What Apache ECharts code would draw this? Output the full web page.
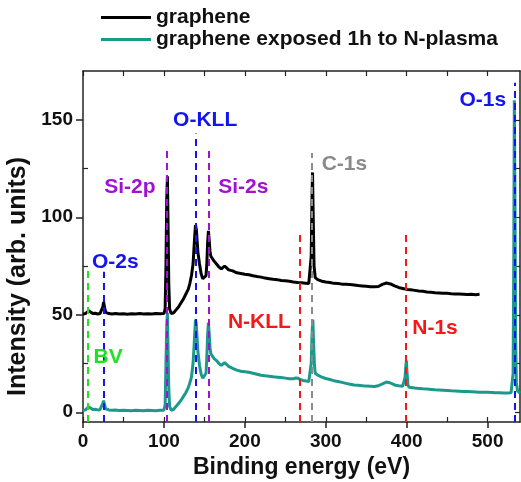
<!DOCTYPE html>
<html>
<head>
<meta charset="utf-8">
<script src="https://cdn.jsdelivr.net/npm/echarts@6/dist/echarts.min.js"></script>
<style>
  html, body { margin: 0; padding: 0; background: #fff; }
  #chart { width: 521px; height: 482px; }
</style>
</head>
<body>
<div id="chart"></div>
<script>
// spectra: [binding energy (eV), intensity]
const graphene = [
  [0,50.3],[3,50.6],[5,51.2],[7,52.0],[9,51.0],[12,50.6],[15,50.8],[18,50.4],[21,50.6],[23,51.5],
  [24.5,54],[25.5,56.5],[26.5,54],[28,51.2],[32,50.6],[36,50.4],[40,50.6],[45,50.4],[50,50.5],
  [55,50.3],[60,50.5],[65,50.4],[70,50.6],[75,50.4],[80,50.5],[85,50.4],[90,50.6],[95,50.5],
  [100,50.6],[101.5,53],[102.5,75],[103.5,110],[104.3,121],[105,100],[106,66],[107,53],[109,50.6],
  [112,51],[115,52.5],[118,54],[121,56],[124,58],[127,60.5],[130,63],[132,66],[134,70],[136,76],
  [137,83],[138,90],[139,96],[140,94],[141,88],[142,82],[144,76],[146,71],[148,68.5],[150,68],
  [152,70],[153,76],[154,87],[155,93],[156,88],[157,82],[158,80],[160,79],[162,77.5],[165,76],
  [168,74.5],[171,73.5],[173,74.5],[175,75],[177,74],[180,73],[185,72.5],[190,71.5],[195,71.2],
  [200,70.8],[205,70.5],[210,70],[215,69.6],[220,69.3],[225,68.8],[230,68.5],[235,68.2],[240,68],
  [245,67.6],[250,67.4],[255,67.2],[260,66.8],[265,66.5],[270,66.4],[275,66.2],[279,66],[281,67],
  [282,80],[283,110],[283.6,123],[284.5,100],[285.5,75],[287,69],[290,68],[295,67.2],[300,66.8],
  [305,66.5],[310,66.1],[315,66],[320,65.7],[325,65.6],[330,65.5],[335,65.3],[340,65],[345,64.8],
  [350,64.6],[355,64.4],[360,64.3],[365,64.5],[370,65.6],[375,66.3],[380,65.8],[385,64.8],[390,64],
  [395,63.5],[400,63],[405,62.8],[410,62.5],[415,62.2],[420,62],[425,61.7],[430,61.5],[435,61.3],
  [440,61.2],[445,61],[450,61],[455,60.8],[460,60.7],[465,60.6],[470,60.5],[475,60.4],[480,60.5],
  [485,60.3],[490,60.5]
];

const nPlasma = [
  [0,0.8],[3,1.2],[5,2],[7,2.8],[9,2],[12,1.4],[15,1.5],[18,1.2],[21,1.3],[23,2],[24.5,4.5],
  [25.5,6],[26.5,4],[28,1.8],[32,1.2],[36,1],[40,1.1],[45,0.9],[50,1],[55,0.9],[60,0.8],[65,1],
  [70,0.9],[75,0.8],[80,1],[85,0.9],[90,0.8],[95,1],[100,1],[101.5,4],[102.5,25],[103.5,45],
  [104.3,51],[105,35],[106,12],[107,3],[109,1],[112,1.5],[115,3],[118,4.5],[121,6],[124,8],
  [127,10],[130,12.5],[132,15],[134,18],[136,25],[137,32],[138,40],[139,47.5],[140,45],[141,38],
  [142,31],[144,24],[146,19.5],[148,17.5],[150,17.5],[152,20],[153,28],[154,40],[155,46],[156,40],
  [157,33],[158,30],[160,29],[162,27.5],[165,26.5],[168,25],[171,24],[173,25],[175,25.5],[177,24.5],
  [180,23.5],[185,22.5],[190,21.6],[195,21],[200,20.8],[205,20.5],[210,20],[215,19.5],[220,19],
  [225,18.7],[230,18.5],[235,18.2],[240,18],[245,17.8],[250,17.5],[255,17.2],[260,17.2],[263,17.6],
  [266,17.4],[269,16.7],[272,16.3],[276,16],[279,15.8],[281,16.5],[282,25],[283,40],[284,47.5],
  [285,35],[286,24],[287,20],[290,19],[295,18],[300,17.3],[305,16.8],[310,16.2],[315,15.8],
  [320,15.3],[325,14.8],[330,14.4],[335,14],[340,13.8],[345,13.6],[350,13.4],[355,13.3],[360,13.2],
  [365,13.6],[370,14.6],[375,15.5],[380,15],[385,14],[390,13.6],[395,13.3],[397,13.5],[398,18],
  [399,24],[399.6,26.5],[400.5,20],[401.5,14],[403,12.8],[405,12.6],[410,12.4],[415,12.2],[420,12],
  [425,11.9],[430,11.7],[435,11.5],[440,11.4],[445,11.3],[450,11.2],[455,11],[460,10.9],[465,10.8],
  [470,10.7],[475,10.6],[480,10.5],[485,10.4],[490,10.3],[495,10.2],[500,10.2],[505,10.1],[510,10],
  [515,10],[520,9.9],[525,9.9],[529,10],[530.5,11],[531.5,20],[532.3,80],[533,160],[533.8,110],
  [534.6,40],[535.5,15],[537,11],[539,10],[540,9.8]
];

// peak markers
const peakNames    = ['BV', 'O-2s', 'Si-2p', 'O-KLL', 'Si-2s', 'N-KLL', 'C-1s', 'N-1s', 'O-1s'];
const peakEnergies = [6, 25.5, 103.5, 139, 155, 267.5, 283.2, 399.3, 533];
const peakTops     = [73, 72, 134, 143, 135, 93, 133, 93, 169];
const labelAt      = [[31, 28], [40, 77], [58, 115.5], [151, 150], [198, 115.5], [218, 46], [323, 127], [435, 43], [494, 160]];

const xTickValues = [0, 100, 200, 300, 400, 500];
const xMinorValues = [50, 150, 250, 350, 450];
const yTickValues = [0, 50, 100, 150];
const yMinorValues = [25, 75, 125];
const xRange = [0, 540];
const yRange = [-5, 175];

// styles
const peakColor = {
  'BV': '#22e022', 'O-2s': '#1414f2', 'O-KLL': '#1414f2', 'O-1s': '#1414f2',
  'Si-2p': '#a012d2', 'Si-2s': '#a012d2', 'C-1s': '#8a8a8a',
  'N-KLL': '#f51818', 'N-1s': '#f51818'
};
const FONT = "'Liberation Sans', Arial, sans-serif";
const INK = '#222';

const chart = echarts.init(document.getElementById('chart'));

const baseX = { type: 'value', min: xRange[0], max: xRange[1], interval: 50, splitLine: { show: false } };
const baseY = { type: 'value', min: yRange[0], max: yRange[1], interval: 25, splitLine: { show: false } };

chart.setOption({
  animation: false,
  legend: {
    left: 96, top: 2, orient: 'vertical', itemGap: 1,
    icon: 'rect', itemWidth: 50, itemHeight: 3,
    textStyle: { fontFamily: FONT, fontWeight: 'bold', fontSize: 21, color: '#111' },
    data: ['graphene', 'graphene exposed 1h to N-plasma']
  },
  grid: { left: 83, right: 1, top: 71, bottom: 60, containLabel: false, outerBoundsMode: 'none' },
  xAxis: [
    Object.assign({}, baseX, {
      position: 'bottom',
      name: 'Binding energy (eV)', nameLocation: 'middle', nameGap: 33,
      nameTextStyle: { fontFamily: FONT, fontWeight: 'bold', fontSize: 23, color: '#111' },
      axisLine: { show: true, onZero: false, lineStyle: { color: INK, width: 1.5 } },
      axisTick: { show: true, inside: false, length: 6, lineStyle: { color: INK, width: 1.5 }, customValues: xTickValues },
      axisLabel: { fontFamily: FONT, fontWeight: 'bold', fontSize: 19, color: '#111', margin: 10, customValues: xTickValues }
    }),
    Object.assign({}, baseX, {
      position: 'bottom',
      axisLine: { show: false, onZero: false },
      axisTick: { show: true, inside: true, length: 5, lineStyle: { color: INK, width: 1.2 }, customValues: xTickValues.concat(xMinorValues) },
      axisLabel: { show: false }
    }),
    Object.assign({}, baseX, {
      position: 'top',
      axisLine: { show: true, onZero: false, lineStyle: { color: INK, width: 1.5 } },
      axisTick: { show: true, inside: true, length: 5, lineStyle: { color: INK, width: 1.2 }, customValues: xTickValues.concat(xMinorValues) },
      axisLabel: { show: false }
    })
  ],
  yAxis: [
    Object.assign({}, baseY, {
      position: 'left',
      name: 'Intensity (arb. units)', nameLocation: 'middle', nameGap: 36,
      nameTextStyle: { fontFamily: FONT, fontWeight: 'bold', fontSize: 25, color: '#111', padding: [0, 60, 0, 0] },
      axisLine: { show: true, onZero: false, lineStyle: { color: INK, width: 1.5 } },
      axisTick: { show: true, inside: false, length: 7, lineStyle: { color: INK, width: 1.5 }, customValues: yTickValues },
      axisLabel: { fontFamily: FONT, fontWeight: 'bold', fontSize: 19, color: '#111', margin: 10, customValues: yTickValues }
    }),
    Object.assign({}, baseY, {
      position: 'left',
      axisLine: { show: false, onZero: false },
      axisTick: { show: true, inside: true, length: 5, lineStyle: { color: INK, width: 1.2 }, customValues: yMinorValues },
      axisLabel: { show: false }
    }),
    Object.assign({}, baseY, {
      position: 'right',
      axisLine: { show: true, onZero: false, lineStyle: { color: INK, width: 1.5 } },
      axisTick: { show: true, inside: true, length: 5, lineStyle: { color: INK, width: 1.2 }, customValues: yTickValues.concat(yMinorValues) },
      axisLabel: { show: false }
    })
  ],
  series: [
    {
      name: 'graphene', type: 'line', data: graphene, showSymbol: false,
      lineStyle: { color: '#000', width: 3 }, itemStyle: { color: '#000' }, z: 2
    },
    {
      name: 'graphene exposed 1h to N-plasma', type: 'line', data: nPlasma, showSymbol: false,
      lineStyle: { color: '#1a9a8c', width: 3 }, itemStyle: { color: '#1a9a8c' }, z: 3
    },
    {
      name: 'peaks', type: 'line', data: [], z: 4, silent: true,
      markLine: {
        symbol: ['none', 'none'], silent: true, animation: false,
        label: { show: false },
        data: peakNames.map((n, i) => [
          { coord: [peakEnergies[i], yRange[0]], lineStyle: { color: peakColor[n], type: [7, 5], width: 2, opacity: 1 } },
          { coord: [peakEnergies[i], peakTops[i]] }
        ])
      }
    },
    {
      name: 'labels', type: 'scatter', symbolSize: 0, z: 5, silent: true,
      itemStyle: { opacity: 1 },
      data: peakNames.map((n, i) => ({
        value: [labelAt[i][0], labelAt[i][1]], name: n,
        label: { color: peakColor[n] }
      })),
      label: {
        show: true, position: 'inside', formatter: p => p.name,
        textBorderWidth: 0, textBorderColor: 'transparent',
        fontFamily: FONT, fontWeight: 'bold', fontSize: 21
      }
    }
  ]
});
</script>
</body>
</html>
